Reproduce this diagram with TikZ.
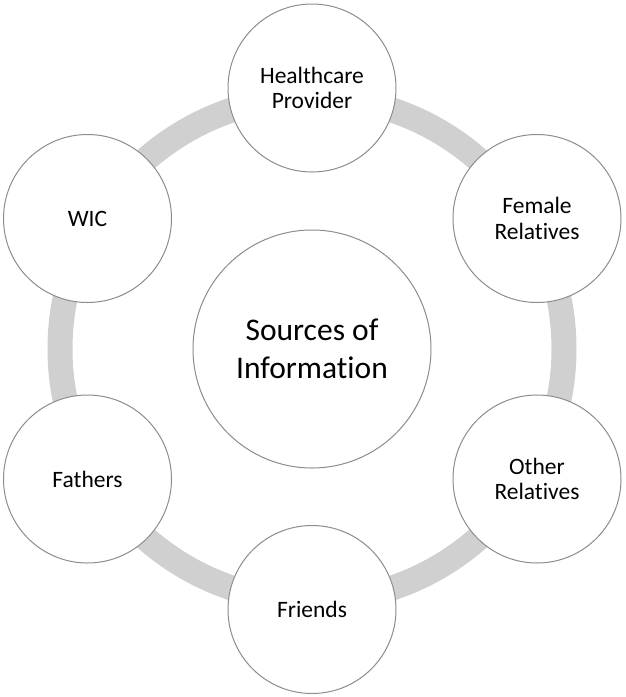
\documentclass[tikz,border=0pt]{standalone}
\usepackage{fontspec}
\setmainfont{Carlito}[RawFeature={-liga;-clig;-dlig}]
\definecolor{ringgray}{HTML}{D0D0D0}
\definecolor{edgegray}{HTML}{8C8C8C}
\begin{document}
\begin{tikzpicture}[x=1pt,y=-1pt,
  outer/.style={circle,draw=edgegray,line width=1pt,fill=white,minimum size=168pt,inner sep=0pt,align=center,
    font=\fontsize{23.5pt}{25.7pt}\selectfont},
  hub/.style={circle,draw=edgegray,line width=1pt,fill=white,minimum size=238pt,inner sep=0pt,align=center,
    font=\fontsize{31.5pt}{38pt}\selectfont}]
\useasboundingbox (0,0) rectangle (625,697);
\coordinate (c) at (312,349);
\draw[ringgray,line width=25pt] (c) circle[radius=252];
\node[hub] (src) at (c) {Sources of\\Information};
\node[outer] (hp) at (312,88) {Healthcare\\Provider};
\node[outer] (fr) at (537,218.5) {Female\\Relatives};
\node[outer] (or) at (537,479) {Other\\Relatives};
\node[outer] (fd) at (312,609.5) {Friends};
\node[outer] (fa) at (87.5,479) {Fathers};
\node[outer] (wic) at (87.5,218.5) {WIC};
\end{tikzpicture}
\end{document}
